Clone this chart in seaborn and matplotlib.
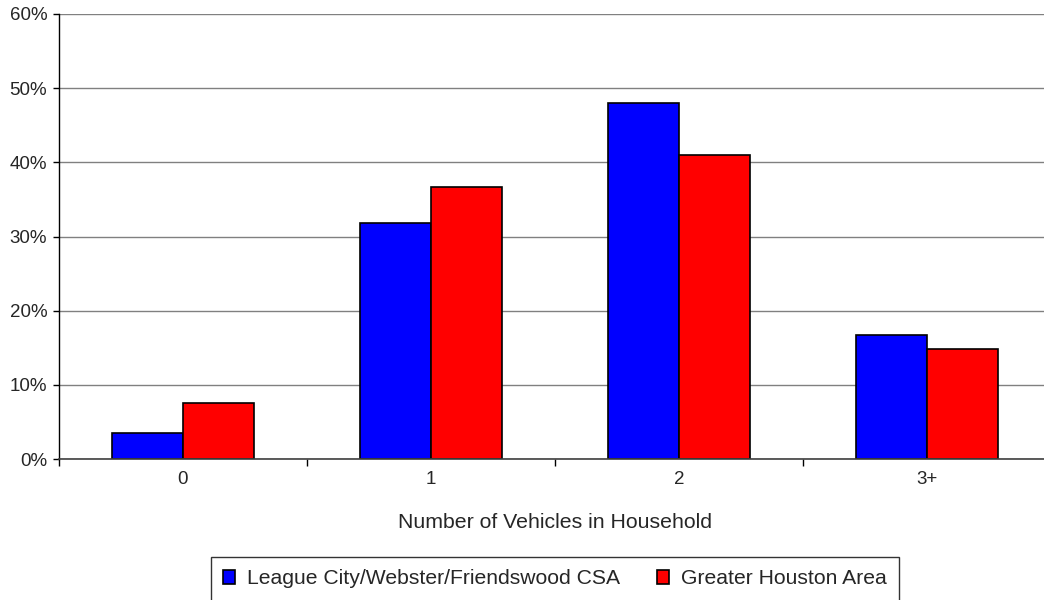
import matplotlib
matplotlib.use("Agg")
import matplotlib.pyplot as plt
import seaborn as sns
import pandas as pd
from matplotlib.patches import Patch
from matplotlib.ticker import FixedLocator

categories = ["0", "1", "2", "3+"]
series_names = ["League City/Webster/Friendswood CSA", "Greater Houston Area"]
league_vals = [3.5, 31.8, 48.0, 16.7]
houston_vals = [7.6, 36.7, 41.0, 14.8]
y_ticks = [0, 10, 20, 30, 40, 50, 60]
y_tick_labels = ["0%", "10%", "20%", "30%", "40%", "50%", "60%"]
colors = ["#0000FF", "#FF0000"]

df = pd.DataFrame({
    "cat": categories * 2,
    "val": league_vals + houston_vals,
    "series": [series_names[0]] * 4 + [series_names[1]] * 4,
})

sns.set_style("white")
plt.rcParams["font.family"] = ["Liberation Sans", "DejaVu Sans"]

fig = plt.figure(figsize=(10.44, 6.0), dpi=100)
ax = fig.add_axes([59 / 1044, 1 - 459 / 600, (1051 - 59) / 1044, (459 - 14) / 600])

sns.barplot(data=df, x="cat", y="val", hue="series", palette=colors,
            order=categories, hue_order=series_names, width=0.575,
            edgecolor="black", linewidth=1.2, saturation=1, ax=ax, legend=False)

ax.set_xlim(-0.5, 3.5)
ax.set_ylim(0, 60)
ax.set_yticks(y_ticks)
ax.set_yticklabels(y_tick_labels)
ax.yaxis.grid(True, color="#808080", linewidth=1.0)
ax.set_axisbelow(True)
for s in ["top", "right"]:
    ax.spines[s].set_visible(False)
ax.spines["left"].set_color("black")
ax.spines["left"].set_linewidth(1.0)
ax.spines["bottom"].set_color("#404040")
ax.spines["bottom"].set_linewidth(1.2)

ax.tick_params(axis="y", direction="out", length=4, width=1, color="black",
               labelsize=13.5, pad=4.5, left=True)
ax.tick_params(axis="x", which="major", length=0, labelsize=13.5, pad=9)
ax.xaxis.set_minor_locator(FixedLocator([-0.5, 0.5, 1.5, 2.5, 3.5]))
ax.tick_params(axis="x", which="minor", direction="out", length=5, width=1,
               color="black", bottom=True)

ax.set_xlabel("Number of Vehicles in Household", fontsize=15.3, labelpad=18)
ax.set_ylabel("")

handles = [Patch(facecolor=c, edgecolor="black", linewidth=1.2) for c in colors]
leg = fig.legend(handles, series_names, loc="center", ncol=2,
                 bbox_to_anchor=(555 / 1044, 1 - 579 / 600), fontsize=15.2,
                 frameon=True, fancybox=False, edgecolor="black",
                 handlelength=0.58, handleheight=0.58, handletextpad=0.55,
                 columnspacing=1.75, borderpad=0.6)
leg.get_frame().set_linewidth(1.0)

fig.savefig("out.png", dpi=100)
